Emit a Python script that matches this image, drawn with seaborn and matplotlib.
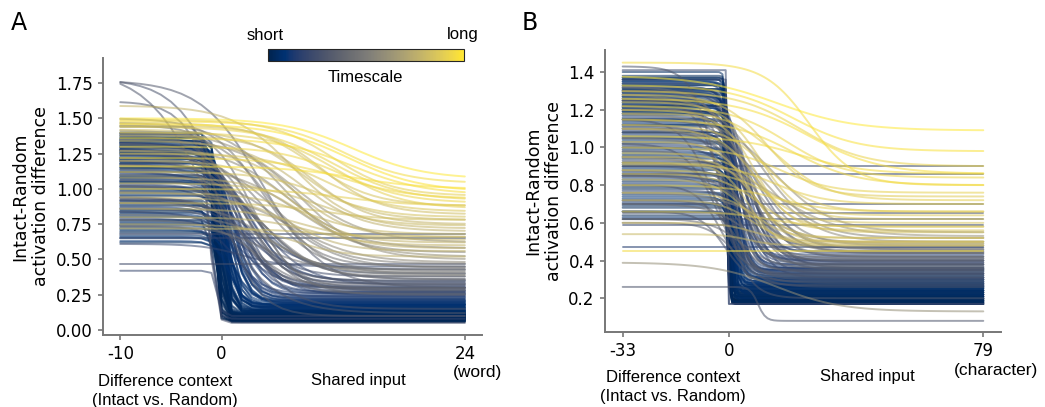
import numpy as np
import pandas as pd
import matplotlib
matplotlib.use('agg')
import matplotlib.pyplot as plt
import matplotlib as mpl
import seaborn as sns

# panel A (word) : each curve = start level, end level, midpoint, width, timescale (0=short,1=long)
a_start = [1.44,1.40,1.38,1.36,1.35,1.34,1.33,1.32,1.31,1.30,1.29,1.28,1.27,1.26,1.25,1.24,1.22,1.21,1.20,1.18,1.17,1.15,1.14,1.12,1.10,1.08,1.07,1.05,1.03,1.01,0.99,0.97,0.95,0.93,0.91,0.89,0.87,0.85,0.83,0.81,0.78,0.76,0.73,0.70,0.66,
           1.39,1.37,1.36,1.35,1.34,1.33,1.32,1.31,1.30,1.29,1.28,1.27,1.26,1.25,1.24,1.23,1.22,1.21,1.20,1.19,1.18,1.16,1.15,1.13,1.12,1.11,1.09,1.08,1.06,1.05,1.04,1.02,1.00,0.98,0.96,0.94,0.92,0.90,0.88,0.86,0.84,0.82,0.80,0.79,0.77,0.75,0.74,0.72,0.71,0.69,0.67,0.65,0.63,0.62,1.33,1.28,1.18,1.02,0.92,0.84,
           1.50,1.47,1.45,1.42,1.40,1.38,1.35,1.32,1.30,1.27,1.25,1.22,1.20,1.17,1.14,1.10,1.06,1.02,0.98,0.94,0.90,0.86,0.82,0.78,0.74,
           1.59,1.50,1.49,1.48,1.47,1.46,1.45,1.44,1.42,1.40,1.38,1.36,1.34,1.30,1.27,1.25,1.22,1.20,1.16,1.12,1.08,1.04,1.00,0.97,0.94,0.90,0.86,0.80,0.75,0.72,
           1.84,1.78,1.77,1.62,0.42,0.68,0.65,0.61,1.39,0.47]
a_end = [0.08,0.12,0.18,0.10,0.25,0.07,0.15,0.30,0.09,0.20,0.13,0.06,0.22,0.11,0.17,0.28,0.08,0.14,0.19,0.10,0.24,0.07,0.16,0.33,0.12,0.09,0.21,0.14,0.27,0.08,0.11,0.18,0.13,0.38,0.09,0.16,0.23,0.10,0.12,0.20,0.07,0.15,0.26,0.11,0.18,
         0.06,0.09,0.14,0.21,0.07,0.11,0.17,0.26,0.08,0.13,0.35,0.10,0.19,0.06,0.24,0.12,0.08,0.16,0.40,0.09,0.13,0.22,0.07,0.18,0.11,0.30,0.08,0.15,0.10,0.20,0.06,0.27,0.12,0.09,0.17,0.43,0.08,0.14,0.11,0.23,0.07,0.19,0.10,0.31,0.13,0.08,0.16,0.12,0.21,0.09,0.14,0.11,0.18,0.10,0.28,0.32,0.36,0.25,0.34,0.29,
         0.45,0.55,0.30,0.62,0.40,0.35,0.50,0.25,0.58,0.42,0.33,0.47,0.28,0.52,0.38,0.44,0.30,0.36,0.48,0.26,0.41,0.32,0.39,0.29,0.43,
         0.72,1.07,0.95,1.04,0.88,0.98,0.82,0.92,0.78,0.86,0.75,0.96,0.70,0.90,0.66,0.84,0.93,0.62,1.00,0.80,0.58,0.74,0.88,0.68,0.56,0.78,0.64,0.60,0.52,0.66,
         0.12,0.15,0.30,0.10,0.10,0.68,0.65,0.45,0.05,0.47]
a_mid = [-1.2,-0.5,0.2,-0.7,1.0,-0.3,0.5,1.8,-0.6,0.8,0.0,-0.8,1.2,-0.4,0.4,2.2,-0.5,0.3,0.9,-0.2,1.5,-0.7,0.6,2.5,0.1,-0.4,1.1,0.3,2.0,-0.6,-0.1,0.7,0.2,3.0,-0.3,0.5,1.4,-0.5,0.0,0.9,-0.8,0.4,1.6,-0.2,0.7,
         -0.4,-0.2,0.4,1.0,-0.6,0.1,0.7,1.6,-0.3,0.3,2.6,-0.1,0.9,-0.7,1.4,0.2,-0.4,0.6,3.2,-0.2,0.3,1.2,-0.5,0.8,0.0,2.0,-0.3,0.5,-0.1,1.0,-0.6,1.8,0.2,-0.2,0.7,3.5,-0.4,0.4,0.0,1.3,-0.5,0.9,-0.1,2.2,0.3,-0.3,0.6,0.1,1.1,-0.2,0.4,0.0,0.8,-0.1,2.8,3.2,3.8,2.4,3.0,2.6,
         4,6,3,7,5,2,8,3.5,6.5,4.5,2.5,5.5,3,7.5,4,6,2,5,7,3,4.5,2.5,5.5,3.5,4,
         7,13,11,12,9,12.5,10,11,8,11.5,9,13,8,12,7.5,10.5,12,7,13,10,8,9.5,12,8.5,7,10,8,9,7,9,
         -1.5,0.5,4.0,0.0,-0.4,0,0,2,-1.2,0]
a_width = [0.3,0.3,0.6,0.2,1.0,0.3,0.6,1.4,0.2,0.8,0.4,0.2,1.0,0.3,0.5,1.6,0.3,0.4,0.9,0.3,1.2,0.2,0.6,2.0,0.4,0.3,1.0,0.4,1.5,0.2,0.3,0.7,0.4,2.2,0.3,0.6,1.2,0.3,0.4,0.9,0.2,0.5,1.3,0.3,0.7,
           0.2,0.3,0.5,0.9,0.2,0.3,0.6,1.3,0.2,0.4,2.0,0.3,0.8,0.2,1.1,0.4,0.2,0.5,2.4,0.3,0.4,1.0,0.2,0.7,0.3,1.6,0.2,0.5,0.3,0.9,0.2,1.4,0.4,0.3,0.6,2.5,0.2,0.5,0.3,1.0,0.2,0.8,0.3,1.7,0.4,0.2,0.6,0.3,0.9,0.3,0.5,0.3,0.7,0.3,2.2,2.5,2.8,2.0,2.4,2.2,
           2.5,3,2,3.5,2.5,2,3,2.2,3.2,2.6,1.8,2.8,2,3.4,2.4,3,1.6,2.6,3.2,2,2.6,1.8,2.8,2.2,2.4,
           3,3.5,3,3.2,3,3.6,2.8,3.4,3,3.2,2.8,3.5,3,3.2,2.6,3,3.4,2.6,3.5,3,2.6,3,3.4,2.8,2.5,3,2.8,2.8,2.5,3,
           3.0,2.5,3.0,1.8,0.2,1,1,2,0.3,1]
a_ts = [0.2,0.04,0.08,0.02,0.12,0.03,0.07,0.15,0.01,0.1,0.05,0.0,0.12,0.03,0.06,0.18,0.02,0.05,0.1,0.03,0.14,0.01,0.07,0.22,0.04,0.02,0.11,0.05,0.16,0.01,0.03,0.08,0.04,0.25,0.02,0.06,0.13,0.03,0.04,0.1,0.0,0.06,0.15,0.03,0.08,
        0.02,0.03,0.05,0.09,0.01,0.04,0.06,0.12,0.02,0.05,0.17,0.03,0.08,0.0,0.11,0.04,0.02,0.06,0.2,0.03,0.05,0.1,0.01,0.07,0.03,0.14,0.02,0.06,0.03,0.09,0.01,0.13,0.04,0.02,0.07,0.22,0.01,0.05,0.03,0.1,0.01,0.08,0.03,0.15,0.05,0.02,0.06,0.04,0.09,0.02,0.05,0.03,0.07,0.03,0.18,0.2,0.24,0.16,0.22,0.19,
        0.45,0.55,0.38,0.6,0.48,0.35,0.58,0.4,0.56,0.46,0.33,0.52,0.36,0.6,0.44,0.5,0.32,0.47,0.57,0.37,0.49,0.34,0.53,0.41,0.45,
        0.78,1.0,0.9,0.95,0.85,0.98,0.82,0.92,0.8,0.9,0.78,0.96,0.76,0.93,0.75,0.86,0.94,0.77,0.97,0.84,0.76,0.8,0.9,0.79,0.75,0.83,0.78,0.77,0.75,0.8,
        0.3,0.28,0.32,0.3,0.2,0.22,0.18,0.2,0.25,0.25]

# panel B (character)
b_start = [1.36,1.35,1.34,1.33,1.32,1.31,1.30,1.29,1.28,1.27,1.26,1.25,1.24,1.23,1.22,1.21,1.20,1.19,1.18,1.16,1.15,1.13,1.12,1.10,1.08,1.07,1.05,1.03,1.01,0.99,0.97,0.95,0.93,0.91,0.89,0.87,0.85,0.83,0.81,0.79,0.77,0.75,0.73,0.71,0.69,0.66,0.63,1.40,1.38,1.37,
           1.37,1.36,1.35,1.34,1.33,1.32,1.31,1.30,1.29,1.28,1.27,1.26,1.25,1.24,1.23,1.22,1.21,1.20,1.19,1.18,1.17,1.15,1.14,1.12,1.11,1.09,1.08,1.06,1.04,1.02,1.00,0.98,0.96,0.94,0.92,0.90,0.88,0.86,0.84,0.82,0.80,0.78,0.76,0.74,0.72,0.70,0.68,0.66,0.64,0.62,1.30,1.25,1.20,1.15,1.10,1.05,1.00,0.95,0.90,0.85,
           1.32,1.30,1.28,1.25,1.22,1.20,1.18,1.15,1.12,1.10,1.08,1.05,1.02,0.98,0.95,0.92,0.88,0.85,0.80,0.76,0.72,0.70,0.66,0.62,0.60,
           1.45,1.38,1.33,1.30,1.28,1.26,1.24,1.22,1.20,1.18,1.15,1.12,1.10,1.06,1.03,1.00,0.97,0.95,0.92,0.91,0.88,0.86,0.83,0.80,0.76,0.72,0.66,0.60,0.54,0.45,
           1.41,1.36,0.90,0.86,0.70,0.65,0.62,0.59,0.47,0.26,0.39,1.43]
b_end = [0.20,0.28,0.35,0.18,0.42,0.24,0.31,0.19,0.38,0.22,0.27,0.45,0.21,0.33,0.17,0.29,0.40,0.23,0.26,0.36,0.19,0.30,0.24,0.44,0.20,0.34,0.27,0.18,0.39,0.22,0.31,0.25,0.47,0.21,0.29,0.36,0.19,0.26,0.33,0.23,0.41,0.20,0.28,0.35,0.22,0.30,0.24,0.18,0.21,0.26,
         0.17,0.22,0.30,0.19,0.26,0.37,0.18,0.24,0.33,0.20,0.28,0.43,0.17,0.23,0.31,0.19,0.27,0.38,0.21,0.25,0.18,0.34,0.22,0.29,0.17,0.40,0.24,0.20,0.32,0.18,0.26,0.36,0.21,0.23,0.19,0.30,0.25,0.17,0.35,0.22,0.28,0.20,0.24,0.32,0.18,0.27,0.21,0.25,0.19,0.23,0.38,0.42,0.33,0.46,0.36,0.40,0.31,0.44,0.35,0.39,
         0.45,0.38,0.52,0.30,0.48,0.35,0.55,0.28,0.42,0.50,0.33,0.46,0.26,0.40,0.53,0.31,0.44,0.37,0.29,0.49,0.34,0.41,0.27,0.36,0.32,
         0.80,1.09,0.98,0.90,0.74,0.86,0.62,0.84,0.72,0.58,0.80,0.66,0.55,0.86,0.50,0.76,0.60,0.52,0.70,0.49,0.64,0.56,0.48,0.66,0.52,0.50,0.58,0.50,0.48,0.45,
         0.17,0.17,0.90,0.86,0.70,0.65,0.62,0.59,0.47,0.08,0.13,0.20]
b_mid = [-0.5,0.5,2,-0.8,4,0,1.5,-0.3,3,0.8,-0.6,6,0.3,2.5,-0.2,1,5,0.6,-0.4,3.5,0.2,1.8,-0.7,7,0.4,2.2,1.2,-0.5,4.5,0.1,1.6,0.7,8,-0.2,1.4,3,0.3,0.9,2.4,-0.4,5,0.5,1.1,2.8,0,1.9,0.6,-0.6,-0.3,0.4,
         -0.3,0.2,1.5,-0.6,0.8,3.0,-0.4,0.4,2.2,-0.1,1.1,5.0,-0.5,0.3,1.8,-0.2,1.0,3.5,0.1,0.6,-0.4,2.6,0.2,1.3,-0.6,4.0,0.5,-0.1,2.0,-0.4,0.9,3.2,0.1,0.4,-0.2,1.6,0.7,-0.5,2.8,0.2,1.2,-0.1,0.5,2.2,-0.3,1.0,0.1,0.6,-0.2,0.3,6,7,5,9,8,6,5,10,7,8,
         5,2,10,-2,8,1,14,-4,6,12,0,9,-3,4,15,-1,7,3,-2,11,2,6,-1,4,1,
         25,15,20,22,12,25,10,18,15,8,20,12,9,22,7,16,10,8,14,6,12,9,6,15,8,7,12,8,6,10,
         -0.5,-0.5,0,0,0,0,0,0,0,9,15,-3]
b_width = [0.4,0.8,1.5,0.3,2.5,0.5,1.2,0.3,2,0.8,0.4,3,0.6,1.8,0.3,1,2.8,0.7,0.4,2.2,0.5,1.4,0.3,3.5,0.6,1.6,1,0.4,2.6,0.5,1.2,0.8,4,0.3,1.1,2,0.5,0.9,1.7,0.4,2.8,0.6,1,1.9,0.4,1.4,0.7,0.3,0.3,0.5,
           0.3,0.5,1.2,0.3,0.8,2.2,0.3,0.5,1.6,0.3,1.0,3.2,0.3,0.5,1.4,0.3,0.9,2.4,0.4,0.6,0.3,1.9,0.4,1.1,0.3,2.8,0.6,0.3,1.5,0.3,0.8,2.3,0.4,0.5,0.3,1.3,0.7,0.3,2.0,0.4,1.0,0.3,0.6,1.7,0.3,0.9,0.4,0.6,0.3,0.4,4,5,4,6,5,4,4,6,5,5,
           6,4,8,4,7,3,9,5,6,8,3,7,5,5,10,4,7,5,4,8,4,6,4,5,4,
           7,12,10,10,7,11,6,9,8,5,10,7,6,10,5,8,6,5,8,4,7,6,5,8,5,5,7,5,4,6,
           0.05,0.05,1,1,1,1,1,1,1,1.2,10,4]
b_ts = [0.05,0.08,0.12,0.02,0.15,0.04,0.1,0.01,0.14,0.06,0.03,0.18,0.05,0.12,0.0,0.08,0.16,0.06,0.03,0.13,0.04,0.1,0.02,0.2,0.05,0.11,0.07,0.02,0.15,0.04,0.09,0.06,0.22,0.01,0.08,0.12,0.03,0.07,0.11,0.02,0.16,0.05,0.08,0.12,0.03,0.1,0.06,0.04,0.02,0.05,
        0.01,0.03,0.08,0.0,0.05,0.12,0.01,0.03,0.1,0.02,0.06,0.16,0.0,0.03,0.09,0.01,0.05,0.13,0.02,0.04,0.01,0.11,0.02,0.07,0.0,0.15,0.04,0.01,0.09,0.0,0.05,0.12,0.02,0.03,0.01,0.08,0.04,0.0,0.11,0.02,0.06,0.01,0.03,0.09,0.01,0.05,0.02,0.04,0.01,0.02,0.25,0.28,0.22,0.3,0.26,0.24,0.2,0.3,0.27,0.25,
        0.45,0.38,0.55,0.32,0.5,0.35,0.6,0.3,0.46,0.58,0.33,0.52,0.3,0.42,0.62,0.34,0.48,0.4,0.31,0.56,0.36,0.45,0.3,0.4,0.35,
        0.95,1.0,0.97,0.92,0.88,0.96,0.85,0.93,0.9,0.82,0.94,0.86,0.84,0.95,0.82,0.91,0.85,0.83,0.9,0.8,0.87,0.84,0.8,0.9,0.82,0.8,0.88,0.81,0.8,0.95,
        0.2,0.18,0.22,0.2,0.2,0.25,0.22,0.2,0.15,0.3,0.6,0.3]


def curves_df(x, start, end, mid, width, ts):
    rows = []
    for i in range(len(start)):
        z = np.clip((x - mid[i]) / width[i], -50, 50)
        y = end[i] + (start[i] - end[i]) / (1 + np.exp(z))
        rows.append(pd.DataFrame({'x': x, 'y': y, 'ts': ts[i], 'unit': i}))
    return pd.concat(rows, ignore_index=True)


sns.set_style('ticks')
plt.rcParams['font.family'] = ['DejaVu Sans']
plt.rcParams['font.size'] = 12
plt.rcParams['text.color'] = 'black'
plt.rcParams['axes.labelcolor'] = 'black'
plt.rcParams['xtick.labelcolor'] = 'black'
plt.rcParams['ytick.labelcolor'] = 'black'
plt.rcParams['axes.unicode_minus'] = False

fig = plt.figure(figsize=(10.45, 4.07), dpi=100)
axA = fig.add_axes([0.0986, 0.1769, 0.3627, 0.6806])
axB = fig.add_axes([0.5789, 0.1843, 0.3787, 0.6929])

dfA = curves_df(np.arange(-10, 25), a_start, a_end, a_mid, a_width, a_ts)
dfB = curves_df(np.arange(-33, 80), b_start, b_end, b_mid, b_width, b_ts)

for ax, df in [(axA, dfA), (axB, dfB)]:
    sns.lineplot(data=df, x='x', y='y', hue='ts', units='unit', estimator=None,
                 palette='cividis', hue_norm=(0, 1), legend=False,
                 lw=1.4, alpha=0.55, ax=ax)
    sns.despine(ax=ax)
    for s in ['left', 'bottom']:
        ax.spines[s].set_color('#777777')
        ax.spines[s].set_linewidth(1.4)
    ax.tick_params(color='#777777', length=3.8, width=1.2, pad=3.6, labelsize=12)
    ax.set_xlabel('')
    ax.set_ylabel('Intact-Random\nactivation difference', fontsize=12.5)

axA.set_xlim(-11.7, 25.7)
axA.set_ylim(-0.035, 1.927)
axA.set_xticks([-10, 0, 24])
axA.set_yticks([0, 0.25, 0.5, 0.75, 1.0, 1.25, 1.5, 1.75])
axA.set_yticklabels(['%.2f' % v for v in [0, 0.25, 0.5, 0.75, 1.0, 1.25, 1.5, 1.75]])

axB.set_xlim(-38.5, 84.4)
axB.set_ylim(0.021, 1.517)
axB.set_xticks([-33, 0, 79])
axB.set_yticks([0.2, 0.4, 0.6, 0.8, 1.0, 1.2, 1.4])
axB.set_yticklabels(['%.1f' % v for v in [0.2, 0.4, 0.6, 0.8, 1.0, 1.2, 1.4]])

W, H = 1045.0, 407.0
def ftext(x, y, s, **kw):
    fig.text(x / W, 1 - y / H, s, ha='center', va='center', **kw)

arial = ['Liberation Sans', 'DejaVu Sans']
ftext(19, 23, 'A', fontsize=17)
ftext(530, 23, 'B', fontsize=17)
ftext(478, 373, '(word)', fontsize=12.5, family=arial)
ftext(996, 370, '(character)', fontsize=12.5, family=arial)
ftext(165, 391, 'Difference context\n(Intact vs. Random)', fontsize=12, linespacing=1.25, family=arial)
ftext(673, 387, 'Difference context\n(Intact vs. Random)', fontsize=12, linespacing=1.25, family=arial)
ftext(358, 380, 'Shared input', fontsize=12, family=arial)
ftext(867, 376, 'Shared input', fontsize=12, family=arial)

# timescale colorbar
cax = fig.add_axes([268 / W, 1 - 61 / H, 196 / W, 12 / H])
sm = mpl.cm.ScalarMappable(norm=mpl.colors.Normalize(0, 1), cmap='cividis')
cb = fig.colorbar(sm, cax=cax, orientation='horizontal')
cb.set_ticks([])
cb.outline.set_linewidth(0.8)
ftext(265, 35, 'short', fontsize=12, family=arial)
ftext(463, 34, 'long', fontsize=12, family=arial)
ftext(365, 77, 'Timescale', fontsize=12, family=arial)

fig.savefig('out.png', dpi=100)
